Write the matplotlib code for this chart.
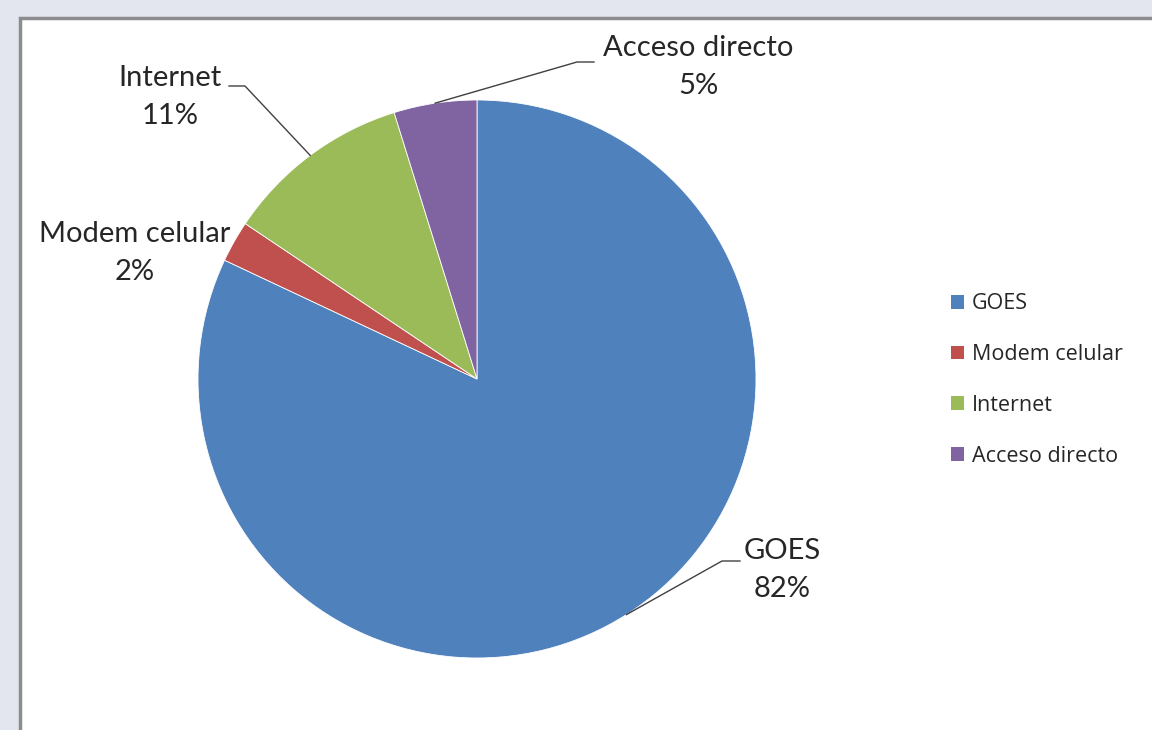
import numpy as np
import matplotlib
matplotlib.use("Agg")
import matplotlib.pyplot as plt
from matplotlib.patches import Rectangle, Patch

labels = ["GOES", "Modem celular", "Internet", "Acceso directo"]
shares = [82.0, 2.4, 10.8, 4.8]
colors = ["#4f81bd", "#c0504d", "#9bbb59", "#8064a2"]

plt.rcParams["font.family"] = ["Lato", "DejaVu Sans"]
text_color = "#262626"

W, H = 1152, 730
fig = plt.figure(figsize=(W / 100, H / 100), dpi=100)
fig.set_facecolor("#e3e6ef")
ax = fig.add_axes([0, 0, 1, 1])

# chart area
ax.add_patch(Rectangle((20, -20), W, H - 18 + 20, facecolor="white",
                       edgecolor="#8c8c8c", linewidth=2.5, zorder=0))

cx, cy, r = 477, H - 379, 279
wedges, _ = ax.pie(shares, colors=colors, startangle=90, counterclock=False,
                   center=(cx, cy), radius=r, frame=True,
                   wedgeprops=dict(linewidth=0.6, edgecolor="white"))
ax.set_xlim(0, W)
ax.set_ylim(0, H)
ax.set_aspect("equal")
ax.axis("off")

# label positions (text centre) and leader elbows, in pixels from top-left
label_pos = {"GOES": (782, 570), "Modem celular": (135, 253),
             "Internet": (170, 97), "Acceso directo": (698, 67)}
elbows = {"GOES": ((722, 561), (740, 561)),
          "Internet": ((245, 86), (229, 86)),
          "Acceso directo": ((577, 62), (594, 62))}

for w, name, val in zip(wedges, labels, shares):
    mid = np.deg2rad((w.theta1 + w.theta2) / 2)
    tx, ty = label_pos[name]
    ax.text(tx, H - ty, f"{name}\n{int(round(val))}%", ha="center", va="center",
            fontsize=21, color=text_color, linespacing=1.6, zorder=5)
    if name in elbows:
        (ex, ey), (hx, hy) = elbows[name]
        px, py = cx + r * np.cos(mid), cy + r * np.sin(mid)
        ax.plot([px, ex, hx], [py, H - ey, H - hy], color="#404040",
                linewidth=1.0, zorder=4)

handles = [Patch(facecolor=c, edgecolor="none") for c in colors]
leg = ax.legend(handles, labels, loc="upper left",
                bbox_to_anchor=(932 / W, 1 - 274 / H), frameon=False,
                prop={"family": "Open Sans", "size": 15.5},
                handlelength=0.6, handleheight=0.6,
                handletextpad=0.35, labelspacing=1.38)
for t in leg.get_texts():
    t.set_color(text_color)

fig.savefig("out.png", dpi=100)
